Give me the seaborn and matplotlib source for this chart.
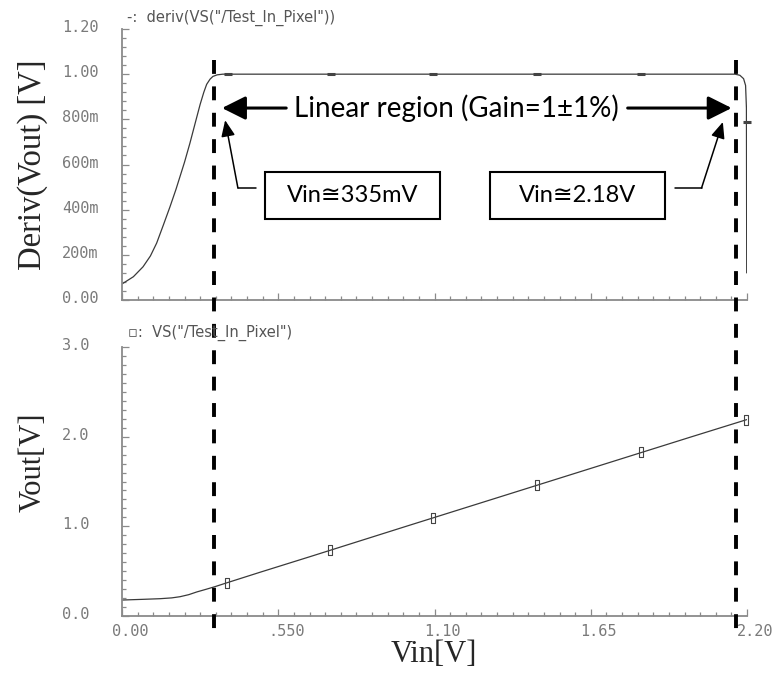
import numpy as np
import matplotlib
matplotlib.use("Agg")
import matplotlib.pyplot as plt
import matplotlib.transforms as mtransforms
from matplotlib.lines import Line2D
from matplotlib.patches import Rectangle
from matplotlib.ticker import MultipleLocator, FixedLocator
import seaborn as sns

# ---- data ----
DERIV_VIN = [0.0, 0.04, 0.074, 0.10, 0.122, 0.145, 0.169, 0.19, 0.204, 0.22,
             0.239, 0.258, 0.275, 0.288, 0.298, 0.31, 0.32, 0.335, 0.355, 0.5,
             1.0, 1.5, 2.0, 2.158, 2.175, 2.188, 2.195, 2.198, 2.199]
DERIV = [0.071, 0.103, 0.147, 0.195, 0.252, 0.33, 0.413, 0.49, 0.546, 0.61,
         0.694, 0.785, 0.866, 0.92, 0.955, 0.978, 0.99, 0.997, 1.0, 1.0,
         1.0, 1.0, 1.0, 1.0, 0.995, 0.98, 0.95, 0.85, 0.12]
DERIV_MARK_VIN = [0.373, 0.736, 1.095, 1.461, 1.827, 2.199]
DERIV_MARK = [1.0, 1.0, 1.0, 1.0, 1.0, 0.789]

VOUT_VIN = [0.0, 0.075, 0.134, 0.175, 0.204, 0.235, 0.263, 0.295, 0.327,
            0.363, 0.486, 0.662, 1.0, 1.5, 2.0, 2.199]
VOUT = [0.178, 0.186, 0.193, 0.202, 0.215, 0.238, 0.268, 0.297, 0.327,
        0.364, 0.488, 0.662, 1.0, 1.497, 1.994, 2.19]
VOUT_MARK_VIN = [0.37, 0.733, 1.095, 1.461, 1.827, 2.196]
VOUT_MARK = [0.37, 0.735, 1.098, 1.462, 1.826, 2.19]

X_TICKS = [0.0, 0.55, 1.10, 1.65, 2.20]
X_LABELS = ["0.00", ".550", "1.10", "1.65", "2.20"]
DERIV_TICKS = [0.0, 0.2, 0.4, 0.6, 0.8, 1.0, 1.2]
DERIV_LABELS = ["0.00", "200m", "400m", "600m", "800m", "1.00", "1.20"]
VOUT_TICKS = [0.0, 1.0, 2.0, 3.0]
VOUT_LABELS = ["0.0", "1.0", "2.0", "3.0"]

VIN_LOW, VIN_HIGH = 0.325, 2.161   # dashed markers of the linear region

sns.set_style("white")
plt.rcParams["font.family"] = ["DejaVu Sans"]
plt.rcParams["lines.scale_dashes"] = False

W, H = 776, 679
fig = plt.figure(figsize=(W / 100, H / 100), dpi=100)
ax1 = fig.add_axes([122 / W, 1 - 300 / H, 625 / W, 271 / H])
ax2 = fig.add_axes([122 / W, 1 - 616 / H, 625 / W, 269 / H])

SPINE = "#8a8a8a"
TICKTXT = "#7a7a7a"
CURVE = "#3a3a3a"

for ax in (ax1, ax2):
    ax.set_facecolor("white")
    for s in ("top", "right"):
        ax.spines[s].set_visible(False)
    for s in ("left", "bottom"):
        ax.spines[s].set_color(SPINE)
        ax.spines[s].set_linewidth(1.3)
    ax.set_xlim(0, 2.2)
    ax.xaxis.set_major_locator(FixedLocator(X_TICKS))
    ax.xaxis.set_minor_locator(MultipleLocator(0.055))
    ax.tick_params(which="both", direction="in", color=SPINE, width=0.9,
                   bottom=True, left=True)
    ax.tick_params(which="major", length=5)
    ax.tick_params(which="minor", length=3)

# top panel
sns.lineplot(x=DERIV_VIN, y=DERIV, ax=ax1, color=CURVE, linewidth=0.9,
             sort=False, estimator=None)
ax1.plot(DERIV_MARK_VIN, DERIV_MARK, linestyle="none", marker="_",
         markersize=6, markeredgewidth=2.2, color="#444444", clip_on=False)
ax1.set_ylim(0, 1.2)
ax1.yaxis.set_major_locator(FixedLocator(DERIV_TICKS))
ax1.yaxis.set_minor_locator(MultipleLocator(0.04))
ax1.set_yticklabels(DERIV_LABELS)
ax1.set_xticklabels([])

# bottom panel
sns.lineplot(x=VOUT_VIN, y=VOUT, ax=ax2, color=CURVE, linewidth=0.9,
             sort=False, estimator=None)
rect_marker = [(-0.35, -1), (0.35, -1), (0.35, 1), (-0.35, 1), (-0.35, -1)]
ax2.plot(VOUT_MARK_VIN, VOUT_MARK, linestyle="none", marker=rect_marker,
         markersize=7, markerfacecolor="none", markeredgecolor="#444444",
         markeredgewidth=0.8, clip_on=False)
ax2.set_ylim(0, 3.0)
ax2.yaxis.set_major_locator(FixedLocator(VOUT_TICKS))
ax2.yaxis.set_minor_locator(MultipleLocator(0.1))
ax2.set_yticklabels(VOUT_LABELS)
ax2.set_xticklabels(X_LABELS)

up = mtransforms.ScaledTranslation(0, 3 / 100, fig.dpi_scale_trans)
for ax in (ax1, ax2):
    ax.tick_params(axis="y", which="major", pad=43)
    for lab in ax.get_yticklabels():
        lab.set_horizontalalignment("left")
        lab.set_fontfamily("DejaVu Sans Mono")
        lab.set_fontsize(11)
        lab.set_color(TICKTXT)
        lab.set_transform(lab.get_transform() + up)
ax2.tick_params(axis="x", which="major", pad=6)
shift = mtransforms.ScaledTranslation(8 / 100, 0, fig.dpi_scale_trans)
for lab in ax2.get_xticklabels():
    lab.set_fontfamily("DejaVu Sans Mono")
    lab.set_fontsize(11)
    lab.set_color(TICKTXT)
    lab.set_transform(lab.get_transform() + shift)

# axis labels
serif = ["Liberation Serif", "DejaVu Serif"]
fig.text(33 / W, 1 - 165 / H, "Deriv(Vout) [V]", rotation=90, ha="center",
         va="center", fontsize=23.5, family=serif)
fig.text(33 / W, 1 - 462 / H, "Vout[V]", rotation=90, ha="center",
         va="center", fontsize=22, family=serif)
fig.text(434 / W, 1 - 655 / H, "Vin[V]", ha="center", va="center",
         fontsize=22, family=serif)

# trace legends
fig.text(127 / W, 1 - 18 / H, '-:  deriv(VS("/Test_In_Pixel"))', ha="left",
         va="center", fontsize=10.5, color="#555555")
fig.text(128 / W, 1 - 333 / H, '▫:  VS("/Test_In_Pixel")', ha="left",
         va="center", fontsize=10.5, color="#555555")

# dashed lines spanning both panels
blend = mtransforms.blended_transform_factory(ax1.transData, fig.transFigure)
for xv in (VIN_LOW, VIN_HIGH):
    fig.add_artist(Line2D([xv, xv], [1 - 60 / H, 1 - 640 / H], transform=blend,
                          color="black", linewidth=2.8, dashes=(10, 9)))

# annotations (top panel, data coordinates)
fam = ["Lato", "DejaVu Sans"]
ax1.text(1.176, 0.85, "Linear region (Gain=1±1%)", ha="center", va="center",
         family=fam, fontsize=20, color="black")
big = dict(arrowstyle="-|>,head_length=0.8,head_width=0.4", color="black",
           lw=2.2, mutation_scale=18, shrinkA=0, shrinkB=0)
ax1.annotate("", xy=(0.352, 0.85), xytext=(0.578, 0.85), arrowprops=big)
ax1.annotate("", xy=(2.146, 0.85), xytext=(1.78, 0.85), arrowprops=big)

for x0, x1 in ((0.503, 1.119), (1.295, 1.911)):
    ax1.add_patch(Rectangle((x0, 0.358), x1 - x0, 0.208, fill=False,
                            edgecolor="black", linewidth=1.5))
ax1.text(0.811, 0.462, "Vin≅335mV", ha="center", va="center",
         family=fam, fontsize=17, color="black")
ax1.text(1.603, 0.462, "Vin≅2.18V", ha="center", va="center",
         family=fam, fontsize=17, color="black")

small = dict(arrowstyle="-|>,head_length=0.7,head_width=0.3", color="black",
             lw=1.1, mutation_scale=14, shrinkA=0, shrinkB=0)
ax1.plot([0.472, 0.408], [0.496, 0.496], color="black", lw=1.1)
ax1.annotate("", xy=(0.363, 0.796), xytext=(0.408, 0.496), arrowprops=small)
ax1.plot([1.946, 2.04], [0.496, 0.496], color="black", lw=1.1)
ax1.annotate("", xy=(2.115, 0.788), xytext=(2.04, 0.496), arrowprops=small)

fig.savefig("out.png", dpi=100)
